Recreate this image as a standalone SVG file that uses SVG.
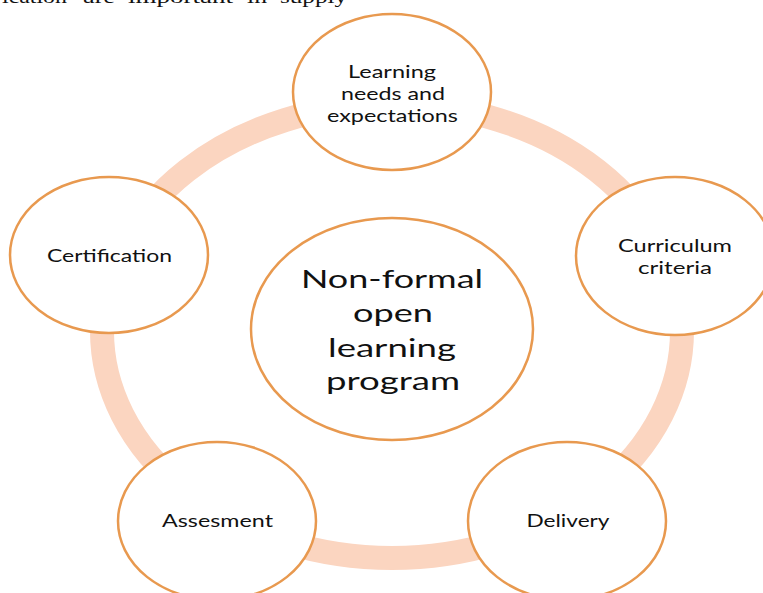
<svg xmlns="http://www.w3.org/2000/svg" width="763" height="593" viewBox="0 0 763 593">
<style>
.node{fill:#ffffff;stroke:#E8994F;stroke-width:2.5}
.lbl{font-family:Lato,"Liberation Sans",sans-serif;font-size:18px;fill:#111;text-anchor:middle}
.big{font-family:Lato,"Liberation Sans",sans-serif;font-size:25px;fill:#111;text-anchor:middle}
.ring{fill:none;stroke:#FBD5C0;stroke-width:24}
.page{font-family:"Liberation Serif",serif;font-size:18px;fill:#111}
</style>
<rect width="763" height="593" fill="#ffffff"/>
<g class="page">
<text x="2" y="3" textLength="65" lengthAdjust="spacingAndGlyphs">ication</text>
<text x="83" y="3" textLength="32" lengthAdjust="spacingAndGlyphs">are</text>
<text x="128" y="3" textLength="105" lengthAdjust="spacingAndGlyphs">important</text>
<text x="247" y="3" textLength="20" lengthAdjust="spacingAndGlyphs">in</text>
<text x="280" y="3" textLength="67" lengthAdjust="spacingAndGlyphs">supply</text>
</g>
<g id="connectors">
<ellipse class="ring" cx="392" cy="331" rx="290" ry="227"/>
</g>
<g id="node-learning">
<ellipse class="node" cx="392" cy="92" rx="99" ry="78"/>
<text class="lbl" x="392" y="78" textLength="88" lengthAdjust="spacingAndGlyphs">Learning</text>
<text class="lbl" x="393" y="100" textLength="104" lengthAdjust="spacingAndGlyphs">needs and</text>
<text class="lbl" x="392.5" y="122" textLength="131" lengthAdjust="spacingAndGlyphs">expectations</text>
</g>
<g id="node-curriculum">
<ellipse class="node" cx="675" cy="256" rx="99" ry="79"/>
<text class="lbl" x="675" y="252" textLength="114" lengthAdjust="spacingAndGlyphs">Curriculum</text>
<text class="lbl" x="675" y="274" textLength="74" lengthAdjust="spacingAndGlyphs">criteria</text>
</g>
<g id="node-certification">
<ellipse class="node" cx="109" cy="255" rx="99" ry="78"/>
<text class="lbl" x="109.5" y="262" textLength="125" lengthAdjust="spacingAndGlyphs">Certification</text>
</g>
<g id="node-center">
<ellipse class="node" cx="392" cy="329" rx="141" ry="111"/>
<text class="big" x="392" y="288" textLength="182" lengthAdjust="spacingAndGlyphs">Non-formal</text>
<text class="big" x="393" y="322" textLength="80" lengthAdjust="spacingAndGlyphs">open</text>
<text class="big" x="392" y="357" textLength="128" lengthAdjust="spacingAndGlyphs">learning</text>
<text class="big" x="393" y="390" textLength="134" lengthAdjust="spacingAndGlyphs">program</text>
</g>
<g id="node-assesment">
<ellipse class="node" cx="217" cy="521" rx="99" ry="79"/>
<text class="lbl" x="217.5" y="527" textLength="111" lengthAdjust="spacingAndGlyphs">Assesment</text>
</g>
<g id="node-delivery">
<ellipse class="node" cx="567" cy="521" rx="99" ry="79"/>
<text class="lbl" x="568" y="527" textLength="83" lengthAdjust="spacingAndGlyphs">Delivery</text>
</g>
</svg>
